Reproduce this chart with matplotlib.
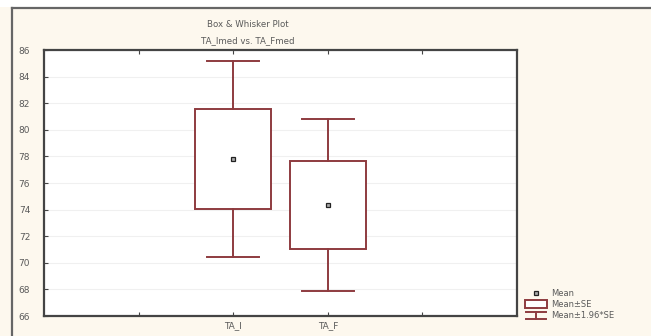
import matplotlib.pyplot as plt
from matplotlib.lines import Line2D
from matplotlib.patches import Rectangle
from matplotlib.legend_handler import HandlerBase

VARIABLES: list[str] = ["TA_I", "TA_F"]
POSITIONS: list[int] = [2, 3]
MEANS: list[float] = [77.8, 74.35]
STD_ERRORS: list[float] = [3.75, 3.3]
Y_TICKS: list[int] = [66, 68, 70, 72, 74, 76, 78, 80, 82, 84, 86]

BOX_COLOR = "#8e3b3f"
BG_COLOR = "#fdf8ee"
TEXT_COLOR = "#5a5a5a"


class WhiskerHandler(HandlerBase):
    """Legend key drawn as a small whisker (I-beam)."""

    def create_artists(self, legend, orig_handle, xdescent, ydescent,
                       width, height, fontsize, trans):
        cx = width / 2 - xdescent
        top = height - ydescent
        bot = -ydescent
        lines = [
            Line2D([cx, cx], [bot, top]),
            Line2D([cx - width * 0.45, cx + width * 0.45], [bot, bot]),
            Line2D([cx - width * 0.45, cx + width * 0.45], [top, top]),
        ]
        for ln in lines:
            ln.set_color(BOX_COLOR)
            ln.set_linewidth(1.4)
            ln.set_transform(trans)
        return lines


def main() -> None:
    fig = plt.figure(figsize=(6.51, 3.36), dpi=100, facecolor=BG_COLOR)
    ax = fig.add_axes([0.0676, 0.0595, 0.7265, 0.7915])
    ax.set_facecolor("white")

    box_w = 0.8
    cap_w = 0.55
    for pos, mean, se in zip(POSITIONS, MEANS, STD_ERRORS):
        lo_box, hi_box = mean - se, mean + se
        lo_wh, hi_wh = mean - 1.96 * se, mean + 1.96 * se
        ax.add_patch(Rectangle((pos - box_w / 2, lo_box), box_w, hi_box - lo_box,
                               facecolor="white", edgecolor=BOX_COLOR, lw=1.4, zorder=3))
        ax.plot([pos, pos], [hi_box, hi_wh], color=BOX_COLOR, lw=1.4, zorder=3)
        ax.plot([pos, pos], [lo_wh, lo_box], color=BOX_COLOR, lw=1.4, zorder=3)
        for y in (lo_wh, hi_wh):
            ax.plot([pos - cap_w / 2, pos + cap_w / 2], [y, y],
                    color=BOX_COLOR, lw=1.4, zorder=3)
        ax.plot(pos, mean, marker="s", ms=3.5, mfc="#aaaaaa", mec="#222222",
                mew=0.9, zorder=4)

    ax.set_xlim(0, 5)
    ax.set_ylim(66, 86)
    ax.set_yticks(Y_TICKS)
    ax.set_xticks([1, 2, 3, 4])
    ax.set_xticklabels(["", VARIABLES[0], VARIABLES[1], ""])
    ax.tick_params(direction="in", length=3, width=0.8, colors="#444444",
                   labelsize=6.5, labelcolor=TEXT_COLOR, top=True)
    ax.tick_params(axis="y", pad=10)
    ax.tick_params(axis="x", pad=4)
    ax.grid(axis="y", color="#f0f0f0", lw=0.8, zorder=0)
    for spine in ax.spines.values():
        spine.set_color("#444444")
        spine.set_linewidth(1.6)

    fig.text(0.381, 0.927, "Box & Whisker Plot", ha="center", va="center",
             fontsize=6.2, color=TEXT_COLOR)
    fig.text(0.381, 0.880, "TA_Imed vs. TA_Fmed", ha="center", va="center",
             fontsize=6.2, color=TEXT_COLOR)

    # outer panel frame
    fig.add_artist(Line2D([12 / 651, 12 / 651], [0, 1 - 8 / 336],
                          transform=fig.transFigure, color="#666666", lw=1.6))
    fig.add_artist(Line2D([12 / 651, 1], [1 - 8 / 336, 1 - 8 / 336],
                          transform=fig.transFigure, color="#666666", lw=1.6))
    fig.patches.append(Rectangle((0, 1 - 7 / 336), 1, 7 / 336, transform=fig.transFigure,
                                 facecolor="white", edgecolor="none", zorder=-1))

    handles = [
        Line2D([], [], ls="none", marker="s", ms=3.5, mfc="#aaaaaa",
               mec="#222222", mew=0.9),
        Rectangle((0, 0), 1, 1, facecolor="white", edgecolor=BOX_COLOR, lw=1.4),
        object(),
    ]
    labels = ["Mean", "Mean±SE", "Mean±1.96*SE"]
    fig.legend(handles, labels, loc="lower left", bbox_to_anchor=(0.795, 0.025),
               frameon=False, fontsize=6, labelcolor=TEXT_COLOR,
               handlelength=2.6, handleheight=1.0, handletextpad=0.5,
               labelspacing=0.25, handler_map={object: WhiskerHandler()})

    fig.savefig("out.png", dpi=100, facecolor=BG_COLOR)


if __name__ == "__main__":
    main()
